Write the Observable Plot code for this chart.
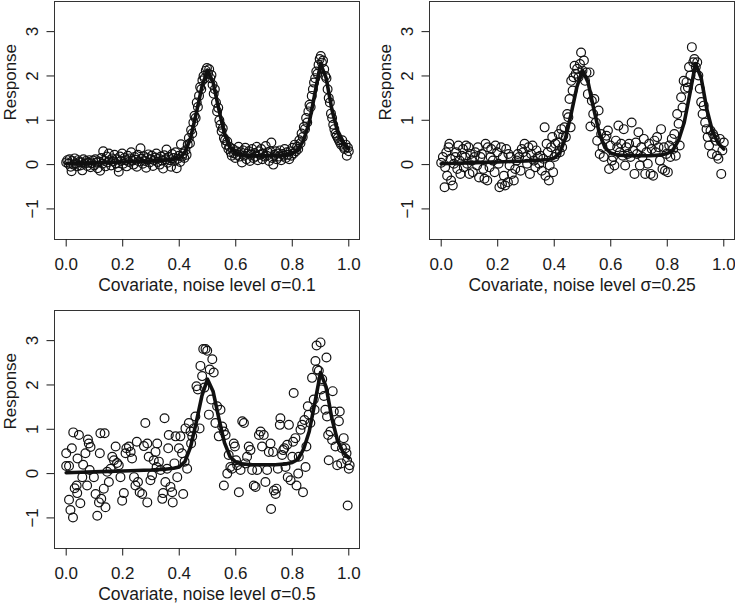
<!DOCTYPE html>
<html>
<head>
<meta charset="utf-8">
<script src="https://cdn.jsdelivr.net/npm/d3@7"></script>
<script src="https://cdn.jsdelivr.net/npm/@observablehq/plot@0.6"></script>
<style>
  html, body { margin: 0; padding: 0; background: white; }
  #wrap { position: relative; width: 735px; height: 608px; background: white; overflow: hidden; }
  .panel { position: absolute; }
</style>
</head>
<body>
<div id="wrap"></div>
<script>
// ---- data ----
const xTicks = [0, 0.2, 0.4, 0.6, 0.8, 1.0];
const yTicks = [-1, 0, 1, 2, 3];
const xTitles = ["Covariate, noise level σ=0.1", "Covariate, noise level σ=0.25", "Covariate, noise level σ=0.5"];
const yTitle = "Response";

// true regression curve
const curveX = [0, 0.05, 0.1, 0.15, 0.2, 0.25, 0.3, 0.35, 0.38, 0.40, 0.42, 0.44, 0.46, 0.48, 0.50, 0.52, 0.54, 0.56, 0.58, 0.60, 0.62, 0.66, 0.70, 0.74, 0.78, 0.80, 0.82, 0.84, 0.86, 0.88, 0.90, 0.92, 0.94, 0.96, 0.98, 1.0];
const curveY = [0.02, 0.03, 0.04, 0.05, 0.06, 0.07, 0.08, 0.10, 0.12, 0.15, 0.27, 0.6, 1.15, 1.75, 2.13, 1.85, 1.25, 0.7, 0.38, 0.26, 0.22, 0.2, 0.2, 0.2, 0.22, 0.25, 0.32, 0.55, 0.95, 1.6, 2.28, 1.95, 1.25, 0.75, 0.48, 0.35];

// sigma = 0.1
const points1 = [[0.000,0.05],[0.004,0.10],[0.008,0.02],[0.012,0.12],[0.016,-0.05],[0.019,-0.15],[0.022,0.08],[0.026,0.00],[0.030,0.14],[0.034,0.03],[0.038,-0.04],[0.042,0.10],[0.046,0.06],[0.050,-0.02],[0.054,0.05],[0.057,-0.13],[0.061,0.12],[0.065,0.02],[0.070,0.08],[0.074,-0.03],[0.078,0.04],[0.082,0.10],[0.086,-0.06],[0.090,0.03],[0.095,0.09],[0.099,-0.02],[0.103,0.12],[0.107,0.05],[0.111,-0.08],[0.115,0.07],[0.120,-0.14],[0.124,0.15],[0.128,0.02],[0.131,0.30],[0.135,0.08],[0.139,-0.04],[0.143,0.18],[0.147,0.05],[0.151,0.25],[0.155,0.10],[0.159,-0.02],[0.163,0.14],[0.167,0.07],[0.171,0.22],[0.175,0.03],[0.179,0.12],[0.183,-0.06],[0.186,-0.16],[0.190,0.18],[0.194,0.08],[0.198,0.25],[0.202,0.02],[0.206,0.15],[0.210,0.10],[0.214,-0.04],[0.218,0.20],[0.222,0.06],[0.226,0.14],[0.230,0.28],[0.234,0.09],[0.238,0.00],[0.242,0.17],[0.246,0.11],[0.250,-0.05],[0.254,0.22],[0.258,0.07],[0.263,0.37],[0.267,0.13],[0.271,0.02],[0.275,0.19],[0.279,0.08],[0.283,-0.07],[0.287,0.15],[0.291,0.23],[0.295,0.05],[0.299,0.12],[0.303,0.20],[0.307,-0.03],[0.311,0.10],[0.315,0.16],[0.319,0.25],[0.323,0.06],[0.327,0.14],[0.331,0.00],[0.335,0.18],[0.339,0.09],[0.343,-0.09],[0.347,0.21],[0.351,0.12],[0.355,0.34],[0.359,0.04],[0.363,0.17],[0.367,0.10],[0.371,-0.05],[0.375,0.24],[0.379,0.15],[0.383,0.08],[0.387,0.28],[0.391,-0.08],[0.395,0.13],[0.399,0.20],[0.403,0.06],[0.406,0.46],[0.410,0.18],[0.414,0.25],[0.418,0.15],[0.422,0.32],[0.426,0.22],[0.430,0.45],[0.434,0.60],[0.438,0.48],[0.442,0.78],[0.446,0.70],[0.450,0.95],[0.454,1.10],[0.458,1.05],[0.462,1.40],[0.466,1.30],[0.470,1.55],[0.474,1.75],[0.478,1.70],[0.482,1.90],[0.486,2.00],[0.490,1.95],[0.494,2.12],[0.498,2.18],[0.502,2.05],[0.506,2.15],[0.510,1.95],[0.514,2.02],[0.518,1.80],[0.522,1.60],[0.526,1.70],[0.530,1.40],[0.534,1.20],[0.538,1.28],[0.542,1.00],[0.546,0.90],[0.550,0.75],[0.554,0.82],[0.558,0.60],[0.562,0.55],[0.566,0.45],[0.570,0.52],[0.574,0.35],[0.578,0.40],[0.582,0.28],[0.586,0.20],[0.590,0.35],[0.594,0.25],[0.598,0.15],[0.602,0.30],[0.606,0.22],[0.610,0.40],[0.614,0.18],[0.618,0.28],[0.622,0.05],[0.626,0.32],[0.630,0.20],[0.634,0.38],[0.638,0.12],[0.642,0.25],[0.646,0.30],[0.650,0.08],[0.654,0.22],[0.658,0.35],[0.662,0.15],[0.666,0.26],[0.670,0.18],[0.674,0.40],[0.678,0.10],[0.682,0.30],[0.686,0.22],[0.690,0.35],[0.694,0.12],[0.698,0.25],[0.702,0.18],[0.706,0.42],[0.710,0.20],[0.714,0.28],[0.718,0.08],[0.722,0.30],[0.726,0.50],[0.729,0.15],[0.733,0.00],[0.737,0.22],[0.741,0.30],[0.745,0.12],[0.749,0.25],[0.753,0.18],[0.757,0.32],[0.761,0.10],[0.765,0.24],[0.769,0.20],[0.773,0.35],[0.777,0.15],[0.781,0.28],[0.785,0.22],[0.789,0.12],[0.793,0.30],[0.797,0.20],[0.801,0.38],[0.805,0.25],[0.809,0.45],[0.813,0.30],[0.817,0.40],[0.821,0.35],[0.825,0.55],[0.829,0.48],[0.833,0.70],[0.837,0.62],[0.841,0.85],[0.845,0.80],[0.849,1.05],[0.853,0.95],[0.857,1.20],[0.861,1.35],[0.865,1.30],[0.869,1.55],[0.873,1.70],[0.877,1.85],[0.881,1.95],[0.885,2.10],[0.889,2.05],[0.893,2.25],[0.897,2.38],[0.901,2.45],[0.905,2.30],[0.909,2.35],[0.913,2.15],[0.917,2.00],[0.921,1.95],[0.925,1.70],[0.929,1.50],[0.933,1.40],[0.937,1.15],[0.941,1.05],[0.945,0.90],[0.949,0.80],[0.953,0.70],[0.957,0.65],[0.961,0.60],[0.965,0.55],[0.969,0.50],[0.973,0.45],[0.977,0.55],[0.981,0.40],[0.985,0.35],[0.989,0.45],[0.993,0.20],[0.997,0.38],[1.000,0.30]];

// sigma = 0.25
const points2 = [[0,0.04],[0.006,0.17],[0.012,-0.51],[0.014,-0.06],[0.018,0.28],[0.021,-0.25],[0.026,0.39],[0.029,0.47],[0.033,0.13],[0.035,-0.36],[0.041,-0.47],[0.045,0.02],[0.05,0.17],[0.053,0.28],[0.057,-0.1],[0.061,0.43],[0.065,0.09],[0.068,-0.21],[0.073,0.2],[0.077,0.35],[0.08,-0.06],[0.085,0.17],[0.088,0.43],[0.092,0.02],[0.097,0.39],[0.1,-0.21],[0.104,0.24],[0.108,0.09],[0.112,-0.17],[0.118,0.17],[0.121,0.28],[0.127,-0.02],[0.13,0.39],[0.134,-0.29],[0.139,0.17],[0.144,0.24],[0.149,-0.1],[0.153,-0.32],[0.157,0.47],[0.163,-0.36],[0.165,0.39],[0.171,-0.06],[0.175,0.17],[0.177,0.35],[0.183,0.09],[0.189,-0.17],[0.192,0.43],[0.198,0.28],[0.203,0.02],[0.206,-0.51],[0.212,0.39],[0.215,-0.44],[0.218,0.17],[0.222,-0.25],[0.226,-0.47],[0.23,0.35],[0.236,-0.4],[0.238,0.24],[0.242,-0.02],[0.245,0.17],[0.25,-0.21],[0.257,-0.36],[0.262,-0.1],[0.267,0.09],[0.271,0.24],[0.276,0.17],[0.281,-0.14],[0.285,0.35],[0.29,0.28],[0.295,0.47],[0.3,0.17],[0.304,0.02],[0.309,0.39],[0.314,-0.21],[0.318,0.24],[0.323,0.43],[0.328,0.09],[0.333,-0.06],[0.337,0.32],[0.342,0.17],[0.347,0.02],[0.351,0.2],[0.356,-0.14],[0.361,0.13],[0.366,0.84],[0.369,-0.25],[0.373,0.47],[0.377,0.28],[0.381,-0.36],[0.384,-0.02],[0.389,0.39],[0.393,0.62],[0.396,-0.17],[0.401,0.17],[0.404,0.47],[0.408,0.24],[0.413,0.5],[0.416,0.69],[0.42,0.28],[0.425,0.8],[0.428,0.39],[0.432,0.65],[0.436,0.84],[0.441,0.62],[0.446,1.14],[0.45,1.07],[0.454,1.48],[0.458,0.84],[0.46,1.89],[0.465,1.67],[0.468,1.97],[0.472,2.23],[0.476,2.05],[0.481,2.16],[0.486,1.97],[0.491,2.27],[0.495,2.53],[0.5,2.12],[0.505,2.35],[0.509,1.89],[0.514,2.08],[0.519,1.59],[0.525,2.08],[0.528,0.86],[0.533,1.44],[0.538,1.14],[0.542,1.48],[0.547,0.95],[0.552,0.54],[0.557,1.22],[0.561,0.24],[0.566,0.69],[0.571,0.39],[0.575,0.17],[0.58,0.58],[0.585,0.65],[0.59,0.77],[0.594,-0.1],[0.599,0.43],[0.604,0.09],[0.608,0.17],[0.613,-0.02],[0.618,0.54],[0.623,0.39],[0.627,0.88],[0.632,0.28],[0.637,0.47],[0.642,0.2],[0.646,0.8],[0.651,-0.02],[0.656,0.39],[0.66,0.24],[0.665,0.47],[0.67,0.17],[0.674,0.95],[0.679,0.32],[0.684,-0.21],[0.689,0.5],[0.693,0.24],[0.698,0.73],[0.703,-0.02],[0.708,0.39],[0.712,0.17],[0.717,0.58],[0.722,-0.21],[0.726,0.28],[0.731,0.02],[0.736,0.47],[0.741,-0.21],[0.745,0.35],[0.75,-0.25],[0.755,0.54],[0.759,0.28],[0.764,0.62],[0.769,0.39],[0.774,0.09],[0.778,0.8],[0.783,-0.1],[0.788,0.39],[0.792,-0.14],[0.797,0.24],[0.802,-0.17],[0.807,0.43],[0.811,0.17],[0.816,0.58],[0.821,0.35],[0.825,0.69],[0.83,0.2],[0.835,1.14],[0.84,0.92],[0.844,0.43],[0.849,1.52],[0.854,1.29],[0.858,1.89],[0.863,1.71],[0.868,1.86],[0.873,1.74],[0.877,2.2],[0.882,2.01],[0.887,2.65],[0.892,2.31],[0.896,2.38],[0.901,2.2],[0.906,2.31],[0.91,2.01],[0.915,1.71],[0.92,1.41],[0.925,1.14],[0.929,1.33],[0.934,0.95],[0.939,0.8],[0.943,0.62],[0.948,0.43],[0.953,0.77],[0.958,0.24],[0.962,0.69],[0.967,0.62],[0.972,0.54],[0.976,0.2],[0.981,0.13],[0.986,0.58],[0.991,-0.21],[0.995,0.32],[1.0,0.5]];

// sigma = 0.5
const points3 = [[0,0.17],[0,0.46],[0.01,0.17],[0.02,0.57],[0.01,-0.59],[0.015,-0.82],[0.024,-0.99],[0.025,0.93],[0.045,0.87],[0.03,-0.33],[0.039,-0.44],[0.037,-0.27],[0.05,-0.67],[0.04,0.34],[0.057,-0.08],[0.06,0.2],[0.068,0.46],[0.077,0.77],[0.08,0.68],[0.086,0.6],[0.074,-0.27],[0.083,0.08],[0.098,-0.08],[0.104,-0.46],[0.11,-0.95],[0.119,0.46],[0.121,0.91],[0.136,0.91],[0.116,-0.65],[0.124,-0.57],[0.139,-0.76],[0.133,-0.34],[0.145,0.04],[0.151,-0.19],[0.157,0.11],[0.163,0.38],[0.169,0.3],[0.175,0.61],[0.18,0.24],[0.186,0.19],[0.192,-0.08],[0.198,-0.61],[0.204,-0.44],[0.21,0.46],[0.213,0.57],[0.222,0.61],[0.228,0.49],[0.233,0.34],[0.24,-0.08],[0.245,-0.27],[0.25,0.72],[0.254,-0.19],[0.26,-0.42],[0.269,-0.46],[0.275,0.62],[0.28,1.14],[0.287,0.68],[0.292,0.38],[0.287,-0.65],[0.298,-0.15],[0.304,-0.04],[0.31,0.3],[0.316,0.49],[0.32,0.15],[0.322,0.68],[0.328,0.27],[0.334,0.08],[0.34,-0.57],[0.343,-0.44],[0.348,1.25],[0.351,-0.19],[0.357,0.11],[0.361,0.57],[0.363,0.87],[0.369,-0.3],[0.375,-0.42],[0.377,-0.65],[0.383,0.23],[0.387,0.84],[0.393,-0.08],[0.399,0.57],[0.404,0.84],[0.41,0.46],[0.414,-0.46],[0.419,0.27],[0.422,1.02],[0.428,0.11],[0.434,1.14],[0.44,0.95],[0.446,0.84],[0.442,0.68],[0.452,1.02],[0.457,1.29],[0.461,1.97],[0.466,1.9],[0.472,1.02],[0.475,2.43],[0.481,2.2],[0.485,2.81],[0.489,1.94],[0.493,2.81],[0.499,2.77],[0.505,1.33],[0.508,2.35],[0.513,1.67],[0.517,2.58],[0.522,2.28],[0.528,1.14],[0.534,1.52],[0.54,0.84],[0.546,1.44],[0.552,1.06],[0.558,0.95],[0.564,0.87],[0.558,-0.27],[0.57,0.0],[0.575,0.42],[0.581,0.15],[0.587,0.11],[0.593,0.68],[0.597,0.61],[0.601,0.3],[0.605,0.19],[0.611,-0.42],[0.617,0.08],[0.623,1.18],[0.629,1.14],[0.634,0.23],[0.64,0.38],[0.646,0.61],[0.652,0.53],[0.658,0.08],[0.664,-0.27],[0.67,-0.3],[0.676,0.08],[0.682,0.87],[0.688,0.95],[0.693,0.61],[0.699,0.87],[0.705,-0.19],[0.711,0.08],[0.717,0.49],[0.723,0.68],[0.725,-0.8],[0.732,0.49],[0.735,-0.38],[0.741,-0.46],[0.744,-0.34],[0.749,0.11],[0.756,1.1],[0.758,1.25],[0.764,0.42],[0.768,0.53],[0.772,0.57],[0.776,0.15],[0.782,0.65],[0.784,-0.08],[0.788,1.1],[0.794,-0.15],[0.8,0.38],[0.803,0.72],[0.805,1.82],[0.811,0.8],[0.815,-0.27],[0.821,0.0],[0.823,0.38],[0.829,0.99],[0.835,1.1],[0.838,-0.42],[0.843,1.21],[0.847,0.15],[0.85,0.61],[0.855,1.52],[0.858,1.33],[0.864,1.14],[0.87,2.16],[0.876,1.67],[0.879,1.44],[0.882,2.54],[0.886,2.89],[0.888,2.35],[0.894,2.32],[0.9,2.96],[0.902,1.9],[0.906,2.13],[0.912,1.75],[0.917,1.44],[0.921,2.62],[0.923,1.29],[0.927,0.87],[0.929,0.3],[0.935,0.95],[0.941,0.76],[0.943,1.86],[0.947,1.4],[0.953,0.61],[0.959,0.19],[0.965,1.18],[0.968,1.4],[0.973,0.23],[0.976,0.57],[0.982,0.8],[0.988,0.57],[0.992,0.46],[0.994,0.3],[0.996,-0.72],[1.0,0.11],[1.003,0.19]];

// ---- drawing ----
const curve = curveX.map((x, i) => ({x, y: curveY[i]}));
const toObjs = arr => arr.map(([x, y]) => ({x, y}));
const FONT = "'Liberation Sans', Arial, Helvetica, sans-serif";
const INK = "#1a1a1a";

function panel(points, title, width, marginRight) {
  return Plot.plot({
    width, height: 300,
    marginLeft: 54, marginRight, marginTop: 1, marginBottom: 61,
    x: {domain: [-0.0414, 1.0379]},
    y: {domain: [-1.69, 3.68]},
    style: {fontFamily: FONT, fontSize: "17px", color: INK, background: "white", overflow: "visible"},
    marks: [
      Plot.frame({stroke: "#333", strokeWidth: 1}),
      Plot.axisX({ticks: xTicks, tickFormat: d3.format(".1f"), tickSize: 7.5, tickPadding: 11, label: null, fontSize: 17}),
      Plot.axisY({ticks: yTicks, tickFormat: d => d < 0 ? "−" + Math.abs(d) : String(d), tickSize: 7.5, tickRotate: -90, tickPadding: 9, label: null, fontSize: 17}),
      Plot.line(curve, {x: "x", y: "y", stroke: "#111", strokeWidth: 3.6, strokeLinejoin: "round"}),
      Plot.dot(toObjs(points), {x: "x", y: "y", r: 4.4, stroke: "#111", strokeWidth: 1.2, fill: "none"}),
      Plot.text([title], {frameAnchor: "bottom", dy: 51, fontSize: 17.5, fill: INK}),
      Plot.text([yTitle], {frameAnchor: "left", dx: -44, rotate: -90, fontSize: 17, fill: INK})
    ]
  });
}

const wrap = document.getElementById("wrap");
const specs = [
  {pts: points1, title: xTitles[0], left: 0, top: 0, width: 367, mr: 8},
  {pts: points2, title: xTitles[1], left: 375, top: 0, width: 360, mr: 1},
  {pts: points3, title: xTitles[2], left: 0, top: 309, width: 367, mr: 8}
];
for (const s of specs) {
  const div = document.createElement("div");
  div.className = "panel";
  div.style.left = s.left + "px";
  div.style.top = s.top + "px";
  div.appendChild(panel(s.pts, s.title, s.width, s.mr));
  wrap.appendChild(div);
}
</script>
</body>
</html>
